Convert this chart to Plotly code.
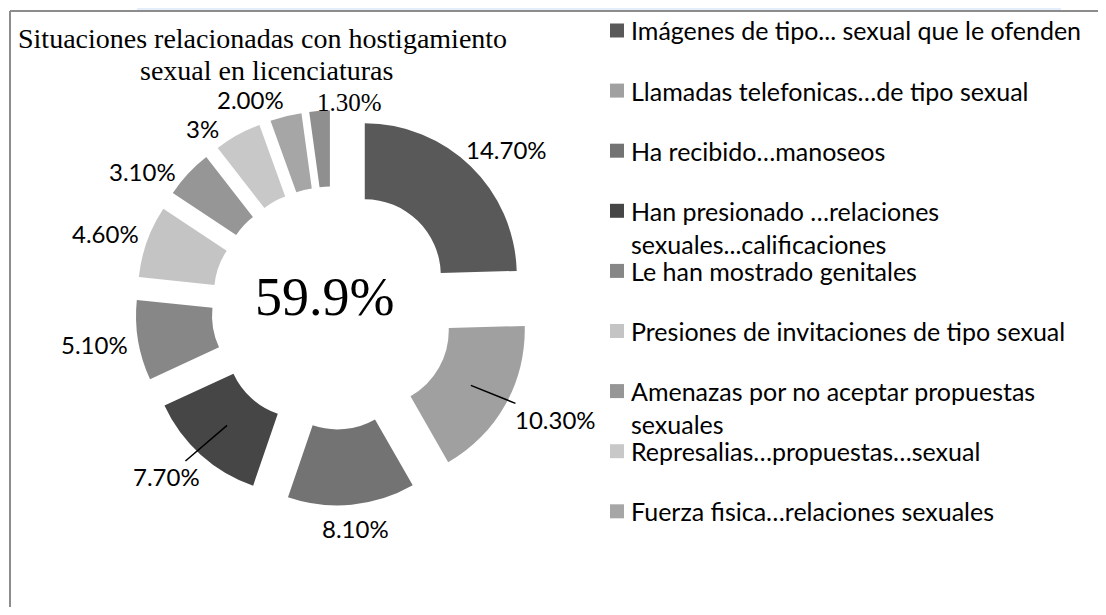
import math
import textwrap
import plotly.graph_objects as go

# datos
situaciones = [
    "Imágenes de tipo... sexual que le ofenden",
    "Llamadas telefonicas…de tipo sexual",
    "Ha recibido…manoseos",
    "Han presionado …relaciones sexuales...calificaciones",
    "Le han mostrado genitales",
    "Presiones de invitaciones de tipo sexual",
    "Amenazas por no aceptar propuestas sexuales",
    "Represalias…propuestas…sexual",
    "Fuerza fisica…relaciones sexuales",
]
valores = [14.7, 10.3, 8.1, 7.7, 5.1, 4.6, 3.1, 3, 2.0, 1.3]
etiquetas = ["14.70%", "10.30%", "8.10%", "7.70%", "5.10%",
             "4.60%", "3.10%", "3%", "2.00%", "1.30%"]
grises = ["#595959", "#a0a0a0", "#737373", "#464646", "#878787",
          "#c4c4c4", "#969696", "#c8c8c8", "#a6a6a6", "#8f8f8f"]
total = "59.9%"
titulo = ["Situaciones relacionadas con hostigamiento", "sexual en licenciaturas"]

# estilo de las etiquetas (como en el original de Excel)
con_guia = [False, True, False, True, False, False, False, False, False, False]
serif = [False] * 9 + [True]
holgura = [12, 18, 12, 18, 12, 12, 12, 12, 12, -4]   # separacion de la dona, px

# la pagina html deja 8px de margen en el body
OFF = 8
W, H = 1106 - 2 * OFF, 615 - 2 * OFF
CX, CY, R, PULL = 333, 308, 152, 0.30   # centro y radio de la dona en px
SEP = 16                                  # separacion minima entre etiquetas (grados)


def fx(x):
    return (x - OFF) / W


def fy(y):
    return 1 - (y - OFF) / H


lado = R * (1 + PULL)
fig = go.Figure()
fig.add_trace(go.Pie(
    labels=etiquetas,
    values=valores,
    sort=False,
    direction="clockwise",
    rotation=0,
    hole=0.5,
    pull=PULL,
    marker=dict(colors=grises, line=dict(width=0)),
    textinfo="none",
    hoverinfo="label",
    showlegend=False,
    domain=dict(x=[fx(CX - lado), fx(CX + lado)], y=[fy(CY + lado), fy(CY - lado)]),
))

anns = []
# angulo medio de cada sector; las etiquetas pequeñas se separan hacia atras
suma = sum(valores)
medios = []
acum = 0
for v in valores:
    medios.append(360 * (acum + v / 2) / suma)
    acum += v
angs = medios[:]
for i in range(len(angs) - 2, -1, -1):
    angs[i] = min(medios[i], angs[i + 1] - SEP)
# la ultima etiqueta se corre al hueco libre junto al primer sector
angs[-1] = medios[-1] + SEP / 2

for i, txt in enumerate(etiquetas):
    ang = math.radians(angs[i])
    ux, uy = math.sin(ang), math.cos(ang)
    w, h = 13 * len(txt), 24
    rr = lado + holgura[i]
    lx = CX + rr * ux + w / 2 * ux
    ly = CY - rr * uy - h / 2 * uy
    fuente = dict(family="Liberation Serif" if serif[i] else "Lato",
                  size=25 if serif[i] else 24, color="black")
    if con_guia[i]:
        rp = R * PULL + 0.74 * R
        px_, py_ = CX + rp * ux, CY - rp * uy
        anns.append(dict(x=fx(px_), y=fy(py_), ax=lx - px_, ay=ly - py_,
                         text=txt, showarrow=True, arrowhead=0, arrowwidth=1.5,
                         arrowcolor="black", standoff=0, font=fuente))
    else:
        anns.append(dict(x=fx(lx), y=fy(ly), text=txt, showarrow=False,
                         xanchor="center", yanchor="middle", font=fuente))

# titulo
anns.append(dict(x=fx(262), y=fy(38), text=titulo[0], showarrow=False,
                 xanchor="center", yanchor="middle",
                 font=dict(family="Liberation Serif", size=28, color="black")))
anns.append(dict(x=fx(266), y=fy(70), text=titulo[1], showarrow=False,
                 xanchor="center", yanchor="middle",
                 font=dict(family="Liberation Serif", size=28, color="black")))
# total en el centro
anns.append(dict(x=fx(324), y=fy(297), text=total, showarrow=False,
                 xanchor="center", yanchor="middle",
                 font=dict(family="Liberation Serif", size=54, color="black")))

# leyenda
shapes = []
for i, nombre in enumerate(situaciones):
    yc = 30.5 + 60.1 * i
    shapes.append(dict(type="rect", xref="paper", yref="paper",
                       x0=fx(610), x1=fx(624), y0=fy(yc + 7), y1=fy(yc - 7),
                       fillcolor=grises[i], line=dict(width=0)))
    lineas = textwrap.wrap(nombre, 41)
    anns.append(dict(x=fx(629), y=fy(yc - 17), text="<br>".join(lineas),
                     showarrow=False, xanchor="left", yanchor="top", align="left",
                     font=dict(family="Lato", size=25, color="black")))

# borde del area del grafico y franja de fondo
shapes.append(dict(type="rect", xref="paper", yref="paper",
                   x0=fx(137), x1=fx(1061), y0=fy(10), y1=1.0,
                   fillcolor="#e4eefb", line=dict(width=0), layer="below"))
shapes.append(dict(type="line", xref="paper", yref="paper",
                   x0=fx(10), x1=1.0, y0=fy(11), y1=fy(11),
                   line=dict(color="#8c8c8c", width=2)))
shapes.append(dict(type="line", xref="paper", yref="paper",
                   x0=fx(10), x1=fx(10), y0=fy(11), y1=0,
                   line=dict(color="#8c8c8c", width=2)))

fig.update_layout(
    width=W, height=H,
    margin=dict(l=0, r=0, t=0, b=0, autoexpand=False),
    paper_bgcolor="white",
    annotations=anns,
    shapes=shapes,
)

fig.write_html("out.html")
